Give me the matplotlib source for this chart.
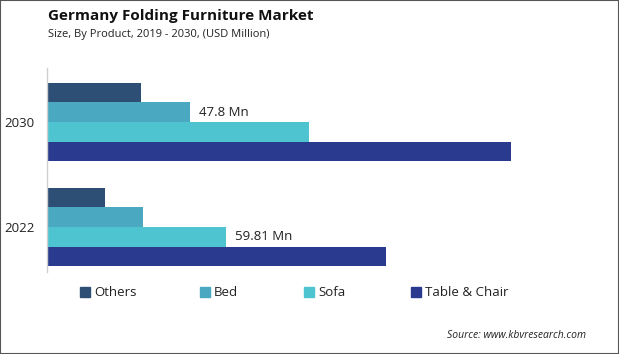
import matplotlib
matplotlib.use("Agg")
import matplotlib.pyplot as plt
import numpy as np
from matplotlib.patches import Rectangle

years = ["2022", "2030"]
series = ["Others", "Bed", "Sofa", "Table & Chair"]
others = [19.4, 31.4]
bed = [32.1, 47.8]
sofa = [59.81, 87.6]
table_chair = [113.4, 155.2]
colors = ["#2d4e75", "#4aa9c1", "#4fc4d1", "#2a3a8f"]
labels = {("Sofa", 0): "59.81 Mn", ("Bed", 1): "47.8 Mn"}

plt.rcParams['font.family'] = ['Open Sans', 'DejaVu Sans']

W, H = 619, 354
fig = plt.figure(figsize=(W / 100, H / 100), dpi=100)
ax = fig.add_axes([47 / W, 1 - 272 / H, (600 - 47) / W, (272 - 68) / H])

h = 0.186
offsets = [1.5 * h, 0.5 * h, -0.5 * h, -1.5 * h]
values = [others, bed, sofa, table_chair]
y = np.arange(len(years))
for name, vals, off, c in zip(series, values, offsets, colors):
    ax.barh(y + off, vals, height=h, color=c, label=name)
    for i, v in enumerate(vals):
        if (name, i) in labels:
            ax.text(v + 3, y[i] + off, labels[(name, i)], va="center", ha="left",
                    fontsize=9.5, color="#222222")

ax.set_xlim(0, 553 / 2.99)
ax.set_ylim(-0.4286, 1.514)
ax.set_yticks(y)
ax.set_yticklabels(years, fontsize=9.5, color="#222222")
ax.tick_params(axis="y", length=0, pad=9)
ax.set_xticks([])
for s in ["top", "right", "bottom"]:
    ax.spines[s].set_visible(False)
ax.spines["left"].set_color("#d0d0d0")
ax.spines["left"].set_linewidth(1.0)

# legend
leg_x = [80, 200, 304, 411]
for hx, name, c in zip(leg_x, series, colors):
    fig.patches.append(Rectangle((hx / W, 1 - 297 / H), 10 / W, 10 / H,
                                 transform=fig.transFigure, color=c))
    fig.text((hx + 14) / W, 1 - 292 / H, name, fontsize=9.5, va="center",
             ha="left", color="#222222")

fig.text(48 / W, 1 - 16 / H, "Germany Folding Furniture Market",
         fontsize=11, fontweight="bold", va="center", ha="left", color="#111111")
fig.text(48 / W, 1 - 35 / H, "Size, By Product, 2019 - 2030, (USD Million)",
         fontsize=8, va="center", ha="left", color="#222222")
fig.text(586 / W, 1 - 336 / H, "Source: www.kbvresearch.com",
         fontsize=7.5, style="italic", va="center", ha="right", color="#222222")

fig.patches.append(Rectangle((0, 0), 1, 1, transform=fig.transFigure,
                             fill=False, edgecolor="#555555", linewidth=1.5))

fig.savefig("out.png", dpi=100)
